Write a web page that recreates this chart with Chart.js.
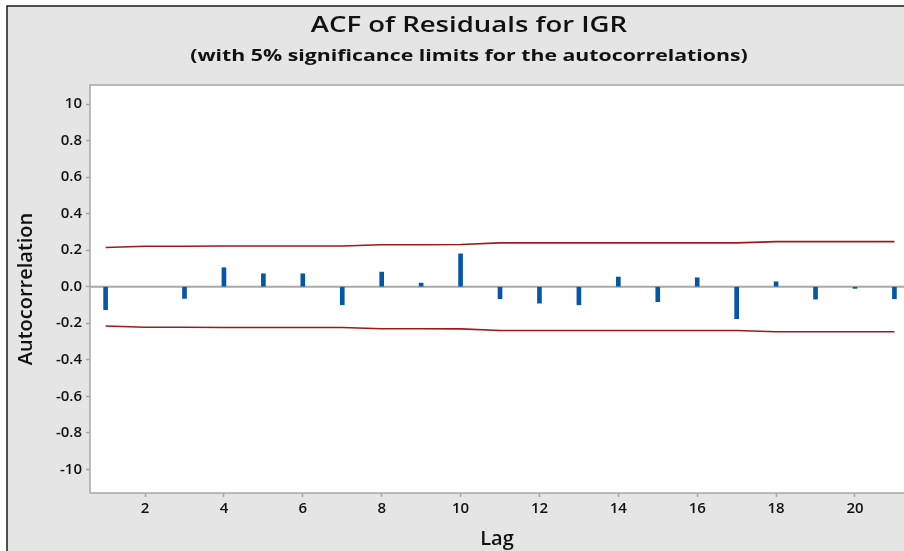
<!DOCTYPE html>
<html>
<head>
<meta charset="utf-8">
<script src="https://cdn.jsdelivr.net/npm/chart.js@4"></script>
<style>
  html, body { margin: 0; padding: 0; background: #fff; overflow: hidden; }
  #wrap { width: 904px; height: 551px; position: relative; }
</style>
</head>
<body>
<div id="wrap"><canvas id="acfChart" width="904" height="551"></canvas></div>
<script>
// ACF values (lag 2 shows no visible bar)
const lags = [1, 2, 3, 4, 5, 6, 7, 8, 9, 10, 11, 12, 13, 14, 15, 16, 17, 18, 19, 20, 21];
const acfValues = [-0.126, null, -0.064, 0.104, 0.071, 0.071, -0.099, 0.080, 0.020, 0.180,
  -0.066, -0.090, -0.099, 0.053, -0.082, 0.049, -0.175, 0.027, -0.068, -0.009, -0.066];
const upperLimit = [0.215, 0.222, 0.222, 0.223, 0.223, 0.223, 0.223, 0.230, 0.230, 0.231,
  0.240, 0.240, 0.240, 0.240, 0.240, 0.240, 0.240, 0.247, 0.247, 0.247, 0.247];
const lowerLimit = [-0.215, -0.222, -0.222, -0.223, -0.223, -0.223, -0.223, -0.230, -0.230, -0.231,
  -0.240, -0.240, -0.240, -0.240, -0.240, -0.240, -0.240, -0.247, -0.247, -0.247, -0.247];
const xTicks = [2, 4, 6, 8, 10, 12, 14, 16, 18, 20];
const yTicks = [1.0, 0.8, 0.6, 0.4, 0.2, 0.0, -0.2, -0.4, -0.6, -0.8, -1.0];
const yTickLabels = ['10', '0.8', '0.6', '0.4', '0.2', '0.0', '-0.2', '-0.4', '-0.6', '-0.8', '-10'];
const titleText = 'ACF of Residuals for IGR';
const subtitleText = '(with 5% significance limits for the autocorrelations)';

const FONT = '"Open Sans", "Noto Sans", sans-serif';

// gray panel, outer frame, white plot area, titles, zero line
const backdrop = {
  id: 'backdrop',
  beforeDraw(chart) {
    const { ctx, chartArea: a } = chart;
    ctx.save();
    ctx.fillStyle = '#fff';
    ctx.fillRect(0, 0, chart.width, chart.height);
    ctx.fillStyle = '#e5e5e5';
    ctx.fillRect(7, 6, chart.width, chart.height);
    ctx.strokeStyle = '#1a1a1a';
    ctx.lineWidth = 1.5;
    ctx.beginPath();
    ctx.moveTo(7, chart.height);
    ctx.lineTo(7, 6);
    ctx.lineTo(chart.width, 6);
    ctx.stroke();
    ctx.fillStyle = '#fff';
    ctx.fillRect(a.left, a.top, a.right - a.left, a.bottom - a.top);
    ctx.strokeStyle = '#a6a6a6';
    ctx.lineWidth = 1.5;
    ctx.beginPath();
    ctx.moveTo(a.right + 2, a.top);
    ctx.lineTo(a.left, a.top);
    ctx.lineTo(a.left, a.bottom);
    ctx.lineTo(a.right + 2, a.bottom);
    ctx.stroke();

    // the titles in the original are drawn wide, so stretch them sideways
    ctx.fillStyle = '#111';
    ctx.textAlign = 'center';
    ctx.textBaseline = 'alphabetic';
    ctx.font = '600 21px ' + FONT;
    ctx.save();
    ctx.translate(469, 32);
    ctx.scale(1.31, 1);
    ctx.fillText(titleText, 0, 0);
    ctx.restore();
    ctx.font = '700 16px ' + FONT;
    ctx.save();
    ctx.translate(469, 61);
    ctx.scale(1.33, 1);
    ctx.fillText(subtitleText, 0, 0);
    ctx.restore();
    ctx.restore();
  },
  beforeDatasetsDraw(chart) {
    const { ctx, chartArea: a } = chart;
    const y0 = chart.scales.y.getPixelForValue(0);
    ctx.save();
    ctx.strokeStyle = '#a8a8a8';
    ctx.lineWidth = 2;
    ctx.beginPath();
    ctx.moveTo(a.left, y0);
    ctx.lineTo(a.right + 2, y0);
    ctx.stroke();
    ctx.restore();
  }
};

const ctx = document.getElementById('acfChart').getContext('2d');
const acfChart = new Chart(ctx, {
  type: 'bar',
  data: {
    datasets: [
      {
        label: 'ACF',
        data: lags.map((l, i) => ({ x: l, y: acfValues[i] })),
        backgroundColor: '#0656a8',
        barThickness: 4,
        order: 2
      },
      {
        type: 'line',
        label: 'Upper limit',
        data: lags.map((l, i) => ({ x: l, y: upperLimit[i] })),
        borderColor: '#9e1a1a',
        borderWidth: 1.6,
        pointRadius: 0,
        tension: 0,
        order: 1
      },
      {
        type: 'line',
        label: 'Lower limit',
        data: lags.map((l, i) => ({ x: l, y: lowerLimit[i] })),
        borderColor: '#9e1a1a',
        borderWidth: 1.6,
        pointRadius: 0,
        tension: 0,
        order: 1
      }
    ]
  },
  options: {
    responsive: false,
    animation: false,
    layout: { padding: { left: 0, right: 0, top: 85, bottom: 0 } },
    plugins: {
      legend: { display: false },
      tooltip: { enabled: false },
      title: { display: false },
      subtitle: { display: false }
    },
    scales: {
      x: {
        type: 'linear',
        offset: false,
        min: 0.604,
        max: 21.243,
        afterBuildTicks: (scale) => { scale.ticks = xTicks.map(v => ({ value: v })); },
        afterFit: (scale) => {
          scale.height = 58;
          scale.paddingLeft = 0;
          scale.paddingRight = 0;
        },
        grid: { offset: false, drawOnChartArea: false, tickLength: 4, color: '#a6a6a6', tickWidth: 1.5 },
        border: { display: false },
        ticks: {
          color: '#111',
          padding: 3,
          maxRotation: 0,
          font: { family: FONT, size: 15, weight: '600' }
        },
        title: {
          display: true,
          text: 'Lag',
          color: '#111',
          font: { family: FONT, size: 20, weight: '600' },
          padding: { top: 0, bottom: 0 }
        }
      },
      y: {
        type: 'linear',
        min: -1.13,
        max: 1.105,
        afterBuildTicks: (scale) => { scale.ticks = yTicks.map(v => ({ value: v })); },
        afterFit: (scale) => { scale.width = 90; },
        grid: { drawOnChartArea: false, tickLength: 4, color: '#a6a6a6', tickWidth: 1.5 },
        border: { display: false },
        ticks: {
          color: '#111',
          padding: 4,
          font: { family: FONT, size: 15, weight: '600' },
          callback: (value) => {
            const i = yTicks.findIndex(t => Math.abs(t - value) < 1e-6);
            return i >= 0 ? yTickLabels[i] : '';
          }
        },
        title: {
          display: true,
          text: 'Autocorrelation',
          color: '#111',
          font: { family: FONT, size: 20, weight: '600' },
          padding: { top: 14, bottom: 0 }
        }
      }
    }
  },
  plugins: [backdrop]
});
</script>
</body>
</html>
